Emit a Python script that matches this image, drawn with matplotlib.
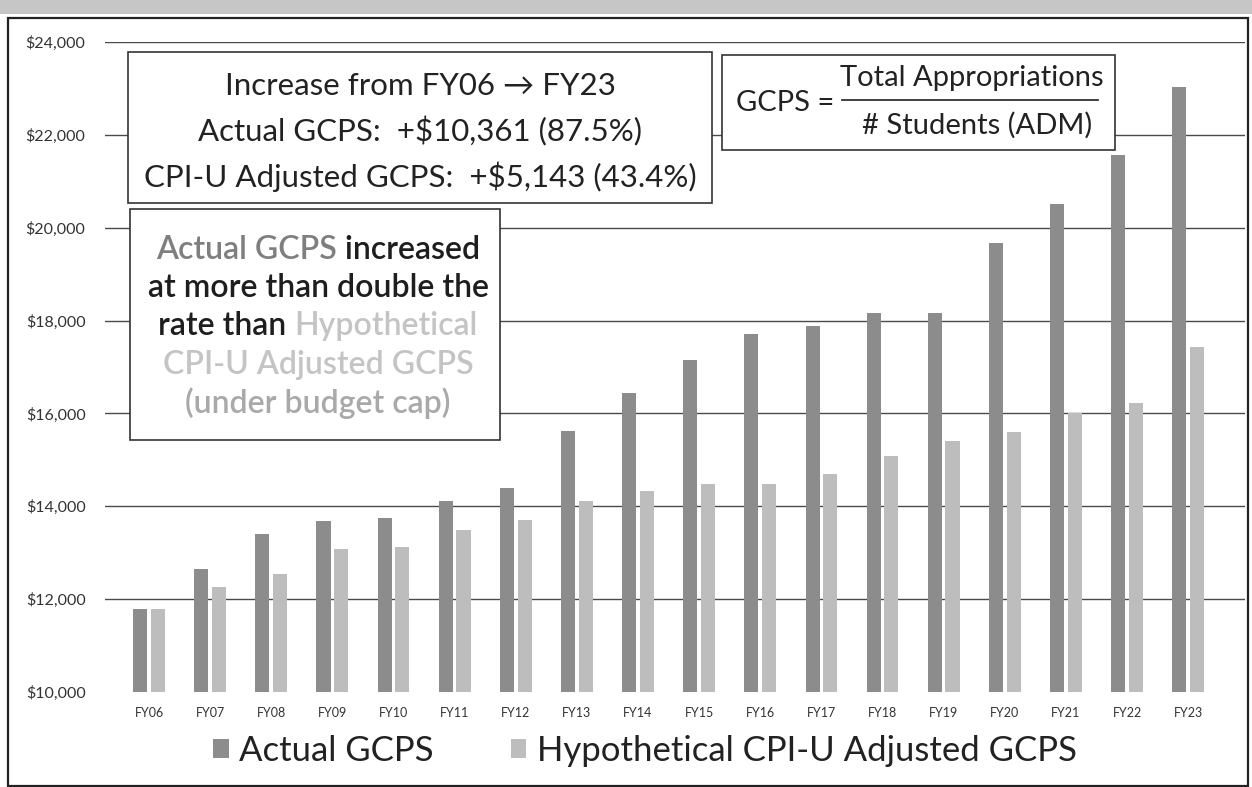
import matplotlib
matplotlib.use("Agg")
import matplotlib.pyplot as plt
from matplotlib.patches import Rectangle
from matplotlib.lines import Line2D
from matplotlib.offsetbox import TextArea, HPacker, VPacker, AnnotationBbox
import numpy as np

# ---------------- data ----------------
years = ["FY06", "FY07", "FY08", "FY09", "FY10", "FY11", "FY12", "FY13", "FY14",
         "FY15", "FY16", "FY17", "FY18", "FY19", "FY20", "FY21", "FY22", "FY23"]
actual_gcps = [11790, 12660, 13410, 13680, 13750, 14120, 14390, 15620, 16450,
               17150, 17720, 17890, 18170, 18170, 19680, 20520, 21560, 23030]
cpi_adjusted_gcps = [11790, 12260, 12550, 13090, 13120, 13480, 13710, 14110, 14330,
                     14490, 14490, 14700, 15090, 15400, 15600, 16000, 16230, 17430]
ytick_values = [10000, 12000, 14000, 16000, 18000, 20000, 22000, 24000]
legend_labels = ["Actual GCPS", "Hypothetical CPI-U Adjusted GCPS"]

# ---------------- style ----------------
W, H = 1252, 787
FONT = ["Lato", "DejaVu Sans"]
plt.rcParams["font.family"] = FONT
DARK = "#8c8c8c"
LIGHT = "#bdbdbd"

def fx(px):
    return px / W

def fy(py):
    return 1 - py / H

fig = plt.figure(figsize=(W / 100, H / 100), dpi=100)
fig.patch.set_facecolor("white")

# scan-like gray band at the top
fig.add_artist(Rectangle((0, fy(14)), 1, 14 / H, transform=fig.transFigure,
                         facecolor="#c6c6c6", edgecolor="none", zorder=0))
# outer frame
fig.add_artist(Rectangle((fx(8), fy(786)), fx(1248) - fx(8), fy(18) - fy(786),
                         transform=fig.transFigure, facecolor="none",
                         edgecolor="#222222", linewidth=1.6, zorder=1))

ax = fig.add_axes([fx(105), fy(692), fx(1245) - fx(105), fy(42) - fy(692)])
ax.set_facecolor("none")

x = np.arange(len(years))
bw = 0.23
off = 0.145
base = 10000
h1 = ax.bar(x - off, np.array(actual_gcps) - base, bottom=base, width=bw,
            color=DARK, zorder=3, label=legend_labels[0])
h2 = ax.bar(x + off, np.array(cpi_adjusted_gcps) - base, bottom=base, width=bw,
            color=LIGHT, zorder=3, label=legend_labels[1])

for v in ytick_values[1:]:
    ax.axhline(v, color="#4a4a4a", linewidth=1.0, zorder=1)

ax.set_xlim(-0.72, len(years) - 0.07)
ax.set_ylim(10000, 24000)
ax.set_yticks(ytick_values)
ax.set_yticklabels([f"${v:,.0f}" for v in ytick_values], fontsize=11.5, color="#333333")
ax.set_xticks(x)
ax.set_xticklabels(years, fontsize=9, color="#333333")
ax.tick_params(axis="y", length=0, pad=14)
ax.tick_params(axis="x", length=0, pad=11)
for s in ax.spines.values():
    s.set_visible(False)

# ---------------- text boxes ----------------
def box(x0, y0, x1, y1):
    fig.add_artist(Rectangle((fx(x0), fy(y1)), fx(x1) - fx(x0), fy(y0) - fy(y1),
                             transform=fig.transFigure, facecolor="white",
                             edgecolor="#333333", linewidth=1.2, zorder=5))

# Box 1
box(128, 52, 712, 203)
for txt, ypx in [("Increase from FY06 \u2192 FY23", 86),
                 ("Actual GCPS:  +$10,361 (87.5%)", 131),
                 ("CPI-U Adjusted GCPS:  +$5,143 (43.4%)", 177)]:
    fig.text(fx(420), fy(ypx), txt, ha="center", va="center", fontsize=22.5,
             color="#222222", zorder=6, family=FONT)

# Box 2 : formula
box(722, 55, 1115, 150)
fig.text(fx(736), fy(103), "GCPS =", ha="left", va="center", fontsize=21,
         color="#222222", zorder=6)
fig.text(fx(972), fy(78), "Total Appropriations", ha="center", va="center",
         fontsize=21, color="#222222", zorder=6)
fig.text(fx(977), fy(125), "# Students (ADM)", ha="center", va="center",
         fontsize=21, color="#222222", zorder=6)
fig.add_artist(Line2D([fx(842), fx(1098)], [fy(100), fy(100)],
                      transform=fig.transFigure, color="#333333", linewidth=1.3,
                      zorder=6))

# Box 3 : multi-colour statement
box(130, 209, 500, 440)
C_ACT = "#7f7f7f"
C_DARK = "#1e1e1e"
C_HYP = "#c4c4c4"
C_CAP = "#a9a9a9"
fp = dict(fontsize=23, fontweight="semibold", family=FONT)

def ta(s, c):
    return TextArea(s, textprops=dict(color=c, **fp))

lines = [
    HPacker(children=[ta("Actual GCPS", C_ACT), ta(" increased", C_DARK)], sep=0, pad=0),
    HPacker(children=[ta("at more than double the", C_DARK)], sep=0, pad=0),
    HPacker(children=[ta("rate than ", C_DARK), ta("Hypothetical", C_HYP)], sep=0, pad=0),
    HPacker(children=[ta("CPI-U Adjusted GCPS", C_HYP)], sep=0, pad=0),
    HPacker(children=[ta("(under budget cap)", C_CAP)], sep=0, pad=0),
]
vp = VPacker(children=lines, align="center", sep=6, pad=0)
ab = AnnotationBbox(vp, (fx(318), fy(327)), xycoords="figure fraction",
                    frameon=False, box_alignment=(0.5, 0.5), zorder=7)
fig.add_artist(ab)

# ---------------- legend ----------------
fig.legend(handles=[h1, h2], labels=legend_labels, loc="center",
           bbox_to_anchor=(fx(645), fy(751)), ncol=2,
           frameon=False, fontsize=25, handlelength=0.45, handleheight=0.45,
           handletextpad=0.3, columnspacing=2.2, labelcolor="#222222")

fig.savefig("out.png", dpi=100)
